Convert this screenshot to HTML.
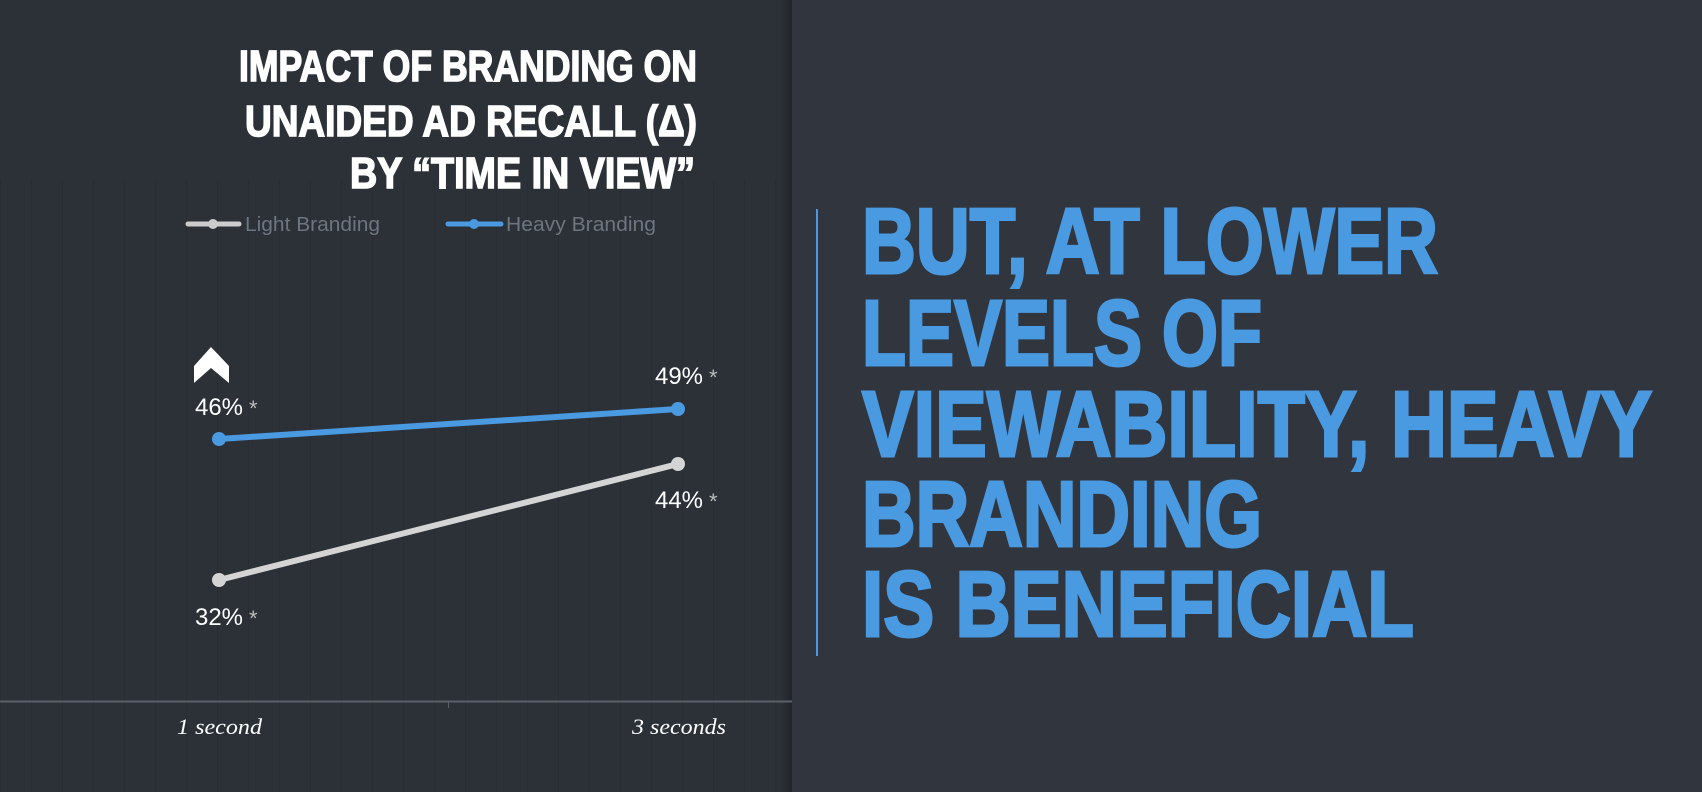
<!DOCTYPE html>
<html><head><meta charset="utf-8"><style>
html,body{margin:0;padding:0;background:#2c3138;}
svg{display:block}
</style></head><body>
<svg width="1702" height="792" viewBox="0 0 1702 792" xmlns="http://www.w3.org/2000/svg">
<defs>
<pattern id="st" width="31" height="792" patternUnits="userSpaceOnUse">
<rect width="31" height="792" fill="none"/>
<rect x="0" width="1" height="792" fill="#262a31" opacity="0.6"/>
</pattern>
<linearGradient id="sh" x1="0" x2="1"><stop offset="0" stop-color="#2c3138"/><stop offset="1" stop-color="#1f2227"/></linearGradient>
</defs>
<rect width="792" height="792" fill="#2c3138"/>
<rect x="0" y="180" width="792" height="612" fill="url(#st)"/>
<rect x="780" y="0" width="12" height="792" fill="url(#sh)" opacity="0.8"/>
<rect x="792" y="0" width="910" height="792" fill="#31363e"/>
<g font-family="'Liberation Sans Narrow','Liberation Sans',sans-serif" font-weight="bold" fill="#ffffff" stroke="#ffffff" stroke-width="1.6" text-anchor="end">
<text x="697" y="81" font-size="44" textLength="458" lengthAdjust="spacingAndGlyphs">IMPACT OF BRANDING ON</text>
<text x="697" y="136" font-size="44" textLength="452" lengthAdjust="spacingAndGlyphs">UNAIDED AD RECALL (Δ)</text>
<text x="695" y="188" font-size="44" textLength="345" lengthAdjust="spacingAndGlyphs">BY “TIME IN VIEW”</text>
</g>
<g font-family="'Liberation Sans Narrow','Liberation Sans',sans-serif" font-size="20" fill="#6c7580">
<line x1="188" y1="224" x2="239" y2="224" stroke="#cccccc" stroke-width="5" stroke-linecap="round"/>
<circle cx="213" cy="224" r="5" fill="#cccccc"/>
<text x="245" y="231" textLength="135" lengthAdjust="spacingAndGlyphs">Light Branding</text>
<line x1="448" y1="224" x2="501" y2="224" stroke="#4a9ae1" stroke-width="5" stroke-linecap="round"/>
<circle cx="474" cy="224" r="5" fill="#4a9ae1"/>
<text x="506" y="231" textLength="150" lengthAdjust="spacingAndGlyphs">Heavy Branding</text>
</g>
<polygon points="194,366 211,347 229,366 229,383 211,368 194,383" fill="#ffffff"/>
<line x1="219" y1="439" x2="678" y2="409" stroke="#4a9ae1" stroke-width="6"/>
<circle cx="219" cy="439" r="7" fill="#4a9ae1"/><circle cx="678" cy="409" r="7" fill="#4a9ae1"/>
<line x1="219" y1="580" x2="678" y2="464" stroke="#d4d4d4" stroke-width="6"/>
<circle cx="219" cy="580" r="7" fill="#d4d4d4"/><circle cx="678" cy="464" r="7" fill="#d4d4d4"/>
<g font-family="'Liberation Sans Narrow','Liberation Sans',sans-serif" font-size="24" fill="#ffffff">
<text x="195" y="415" textLength="48" lengthAdjust="spacingAndGlyphs">46%</text><text x="249" y="416" fill="#bbbbbb" font-size="22">*</text>
<text x="655" y="384" textLength="48" lengthAdjust="spacingAndGlyphs">49%</text><text x="709" y="385" fill="#bbbbbb" font-size="22">*</text>
<text x="655" y="508" textLength="48" lengthAdjust="spacingAndGlyphs">44%</text><text x="709" y="509" fill="#bbbbbb" font-size="22">*</text>
<text x="195" y="625" textLength="48" lengthAdjust="spacingAndGlyphs">32%</text><text x="249" y="626" fill="#bbbbbb" font-size="22">*</text>
</g>
<line x1="0" y1="701.5" x2="792" y2="701.5" stroke="#5a616b" stroke-width="2"/>
<line x1="448.5" y1="701" x2="448.5" y2="708" stroke="#5a616b" stroke-width="1"/>
<g font-family="'Liberation Serif',serif" font-style="italic" font-size="22" fill="#ffffff">
<text x="177" y="734" textLength="85" lengthAdjust="spacingAndGlyphs">1 second</text>
<text x="632" y="734" textLength="94" lengthAdjust="spacingAndGlyphs">3 seconds</text>
</g>
<rect x="816" y="209" width="2" height="447" fill="#4a9ae1"/>
<g font-family="'Liberation Sans Narrow','Liberation Sans',sans-serif" font-weight="bold" font-size="93" fill="#4a9ae1" stroke="#4a9ae1" stroke-width="3">
<text x="862" y="273" textLength="576" lengthAdjust="spacingAndGlyphs">BUT, AT LOWER</text>
<text x="862" y="365" textLength="400" lengthAdjust="spacingAndGlyphs">LEVELS OF</text>
<text x="862" y="456" textLength="790" lengthAdjust="spacingAndGlyphs">VIEWABILITY, HEAVY</text>
<text x="862" y="546" textLength="400" lengthAdjust="spacingAndGlyphs">BRANDING</text>
<text x="862" y="636" textLength="552" lengthAdjust="spacingAndGlyphs">IS BENEFICIAL</text>
</g>
</svg>
</body></html>
